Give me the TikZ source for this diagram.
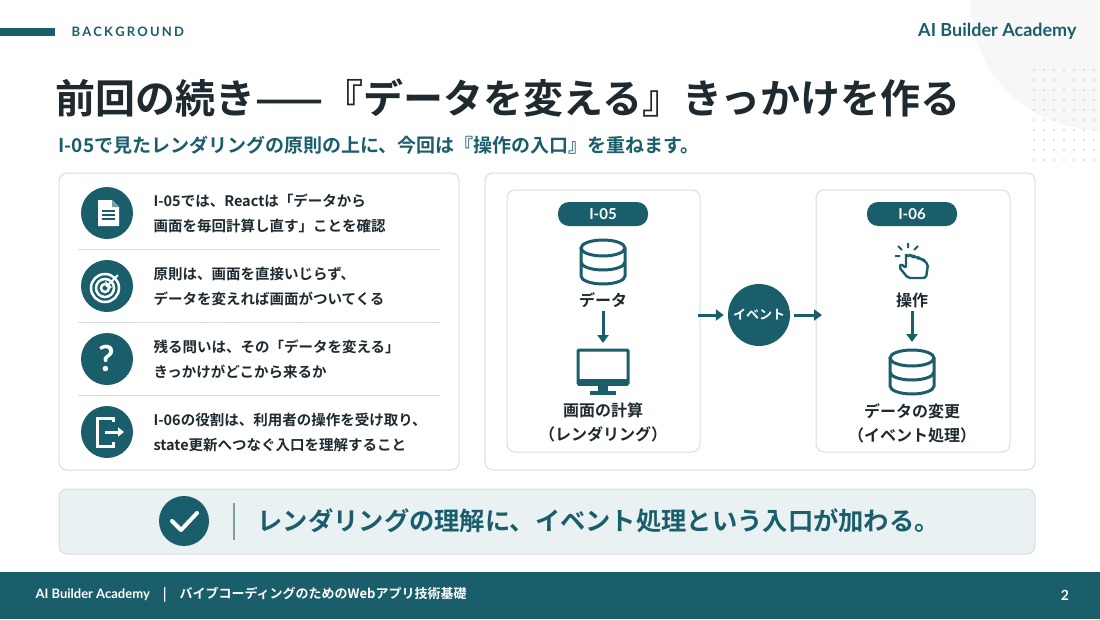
\documentclass[tikz,border=0pt]{standalone}
\usepackage{fontspec}
\setmainfont{Noto Sans CJK JP}[BoldFont={* Bold}]
\newfontfamily\lat{Lato}
\usetikzlibrary{arrows.meta}
\definecolor{teal}{HTML}{1B5E6B}
\definecolor{ink}{HTML}{1E2A30}
\definecolor{bordr}{HTML}{D5DEE2}
\definecolor{band}{HTML}{E9F1F3}
\tikzset{
 panel/.style={draw=bordr,line width=1pt,fill=white,rounded corners=8pt},
 ic/.style={circle,fill=teal,minimum size=52pt,inner sep=0},
 row/.style={anchor=west,align=left,font=\bfseries\fontsize{14.5}{25}\selectfont,text=ink},
 lbl/.style={font=\bfseries\fontsize{16}{24}\selectfont,text=ink,align=center},
 pill/.style={fill=teal,rounded corners=11pt,minimum width=90pt,minimum height=24pt,text=white,font=\lat\bfseries\fontsize{15}{15}\selectfont},
 arr/.style={-{Triangle[length=8pt,width=11pt]},line width=3pt,draw=teal},
 sep/.style={draw=bordr,line width=0.8pt},
 icl/.style={draw=teal,line width=3pt},
}
\begin{document}
\begin{tikzpicture}[x=1pt,y=-1pt]
\useasboundingbox (0,0) rectangle (1100,619);
\fill[white] (0,0) rectangle (1100,619);
\fill[gray!6] (1100,0) circle (130);
\foreach \i in {0,...,6}\foreach \j in {0,...,9}
  \fill[gray!30] (1034+\i*10,70+\j*10) circle (1.2);
% header
\fill[teal] (0,28) rectangle (55,36);
\node[anchor=west,text=teal,font=\lat\bfseries\fontsize{13}{13}\selectfont] (bg) at (68,32) {B\,A\,C\,K\,G\,R\,O\,U\,N\,D};
\node[anchor=east,text=teal,font=\lat\bfseries\fontsize{18}{18}\selectfont] (brand) at (1080,31) {AI Builder Academy};
\node[anchor=west,text=ink,font=\bfseries\fontsize{40}{40}\selectfont] (title) at (52,98) {前回の続き——『データを変える』きっかけを作る};
\node[anchor=west,text=teal,font=\bfseries\fontsize{19}{19}\selectfont] (sub) at (55,145) {I-05で見たレンダリングの原則の上に、今回は『操作の入口』を重ねます。};
% left panel
\draw[panel] (59,173) rectangle (459,470);
\foreach \y in {249,322,395} \draw[sep] (78,\y) -- (440,\y);
\node[ic] (i1) at (107,213) {};
\node[ic] (i2) at (107,286) {};
\node[ic] (i3) at (107,359) {};
\node[ic] (i4) at (107,432) {};
% doc icon
\fill[white] (98,200) -- (112,200) -- (119,207) -- (119,226) -- (98,226) -- cycle;
\fill[teal!60] (112,200) -- (112,207) -- (119,207) -- cycle;
\foreach \y in {211,215,219} \draw[teal,line width=1.5pt] (102,\y) -- (115,\y);
% target
\foreach \r in {14,9,4} \draw[white,line width=2.5pt] (105,288) circle (\r);
\draw[white,line width=2pt,-{Triangle[length=4pt]}] (118,275) -- (106,287);
% question
\node[text=white,font=\lat\bfseries\fontsize{36}{36}\selectfont] (q) at (107,358) {?};
% exit
\draw[white,line width=3pt] (113,422) -- (113,418) -- (97,418) -- (97,446) -- (113,446) -- (113,442);
\draw[white,line width=3pt,-{Triangle[length=6pt,width=9pt]}] (105,432) -- (124,432);
\node[row] (t1) at (150,213) {I-05では、Reactは「データから\\画面を毎回計算し直す」ことを確認};
\node[row] (t2) at (150,286) {原則は、画面を直接いじらず、\\データを変えれば画面がついてくる};
\node[row] (t3) at (150,359) {残る問いは、その「データを変える」\\きっかけがどこから来るか};
\node[row] (t4) at (150,432) {I-06の役割は、利用者の操作を受け取り、\\state更新へつなぐ入口を理解すること};
% right panel
\draw[panel] (485,173) rectangle (1035,470);
\draw[panel] (507,190) rectangle (700,452);
\draw[panel] (816,190) rectangle (1010,452);
\node[pill] (p1) at (603,214) {I-05};
\node[pill] (p2) at (912,214) {I-06};
% db icons
\foreach \cx/\cy in {603/262,912/372}{
 \begin{scope}[shift={(\cx,\cy)}]
 \draw[icl] (-22,-14) -- (-22,14) arc[start angle=180,end angle=0,x radius=22,y radius=8] -- (22,-14);
 \draw[icl] (0,-14) ellipse [x radius=22,y radius=8];
 \draw[icl] (-22,0) arc[start angle=180,end angle=0,x radius=22,y radius=8];
 \end{scope}}
\node[lbl] (d1) at (603,300) {データ};
% monitor
\draw[icl,rounded corners=1pt] (578,350) rectangle (628,384);
\fill[teal] (578,379) rectangle (628,386);
\fill[teal] (598,386) rectangle (608,392);
\fill[teal] (590,391) rectangle (616,395);
\coordinate (mon) at (603,343);
\node[lbl] (c1) at (603,422) {画面の計算\\（レンダリング）};
\draw[arr] (d1.south) -- (mon);
% hand icon
\begin{scope}[shift={(912,262)}]
 \draw[teal,line width=2.4pt,line join=round,rounded corners=2pt] (-6,-8) -- (-6,6) -- (-11,2) -- (-13,5) -- (-4,16) -- (14,16) -- (16,2) -- (12,-1) -- (11,-3) -- (7,-3) -- (6,-5) -- (2,-5) -- (1,-6) -- (-2,-6) -- (-2,-8);
 \draw[teal,line width=2.4pt] (-6,-8) arc[start angle=180,end angle=0,radius=2];
 \draw[teal,line width=2pt] (-4,-14) -- (-4,-19) (-10,-12) -- (-14,-16) (2,-12) -- (6,-16) (-12,-6) -- (-17,-6);
\end{scope}
\node[lbl] (o2) at (912,300) {操作};
\node[lbl] (c2) at (912,423) {データの変更\\（イベント処理）};
\coordinate (db2top) at (912,342);
\draw[arr] (o2.south) -- (db2top);
% event
\node[circle,fill=teal,minimum size=62pt,inner sep=0,text=white,font=\bfseries\fontsize{13}{13}\selectfont] (ev) at (759,315) {イベント};
\coordinate (a1) at (698,315);
\coordinate (a2) at (822,315);
\draw[arr] (a1) -- ([xshift=-4pt]ev.west);
\draw[arr] ([xshift=4pt]ev.east) -- (a2);
% bottom banner
\draw[draw=bordr,fill=band,rounded corners=8pt,line width=1pt] (59,489) rectangle (1035,554);
\node[circle,fill=teal,minimum size=50pt,inner sep=0] (chk) at (184,521) {};
\draw[white,line width=4pt,line cap=round,line join=round] (172,521) -- (181,530) -- (197,513);
\draw[teal!60,line width=1.5pt] (234,503) -- (234,540);
\node[anchor=west,text=teal,font=\bfseries\fontsize{25.3}{25.3}\selectfont] (msg) at (254,521) {レンダリングの理解に、イベント処理という入口が加わる。};
% footer
\fill[teal] (0,572) rectangle (1100,619);
\node[anchor=west,text=white,font=\bfseries\fontsize{13}{13}\selectfont] (ft) at (32,595) {{\lat AI Builder Academy}\quad|\quad バイブコーディングのためのWebアプリ技術基礎};
\node[text=white,font=\lat\bfseries\fontsize{14}{14}\selectfont] (pg) at (1065,595) {2};
\end{tikzpicture}
\end{document}
